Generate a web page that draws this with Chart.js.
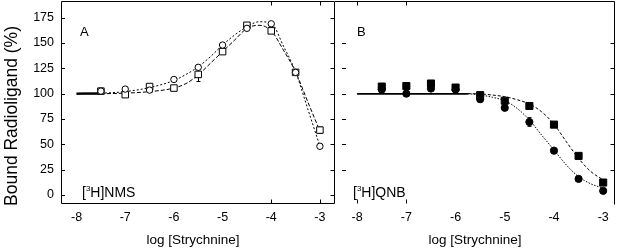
<!DOCTYPE html>
<html><head><meta charset="utf-8">
<script src="https://cdn.jsdelivr.net/npm/chart.js@4/dist/chart.umd.min.js"></script>
<style>
html,body{margin:0;padding:0;background:#fff;}
#wrap{position:relative;width:617px;height:250px;overflow:hidden;background:#fff}
#ca{position:absolute;left:0;top:0}
#cb{position:absolute;left:335px;top:0}
</style></head><body>
<div id="wrap"><canvas id="ca" width="337" height="250"></canvas><canvas id="cb" width="282" height="250"></canvas></div>
<script>
// ---- data ----
const xTicks = [-8,-7,-6,-5,-4,-3];
const xTickLabels = ['-8','-7','-6','-5','-4','-3'];
const yTicks = [0,25,50,75,100,125,150,175];
const yTickLabels = ['0','25','50','75','100','125','150','175'];
const doseX = [-7.5,-7,-6.5,-6,-5.5,-5,-4.5,-4,-3.5,-3];

// Panel A  [3H]NMS
const nmsCircle = [102.5,104.5,103.5,114,126,148,164.5,169,121,48];
const nmsCircleErr = [0,2,2,0,0,0,0,0,0,0];
const nmsSquare = [102.5,99,107,105.5,119,141.5,167.5,162,121,64];
const nmsSquareErr = [0,2,0,0,7,0,0,0,0,3];
const curveXA = [-8,-7.5,-7,-6.5,-6,-5.75,-5.5,-5.25,-5,-4.75,-4.5,-4.25,-4,-3.75,-3.5,-3.25,-3];
const nmsCircleCurve = [100,100.5,102,106,113,119,126.5,136.5,148,158,166,171,169.5,147,121.5,85,48];
const nmsSquareCurve = [100,100,100.5,102,105.5,110,118.5,130,141.5,153,164.5,167.5,162,143,121.5,92,63];

// Panel B  [3H]QNB
const qnbSquare = [107,107.5,110,106,98.5,93,87.8,69.4,38.5,12.2];
const qnbSquareErr = [0,3.5,2,0,0,0,0,0,0,0];
const qnbCircle = [104,100,105,104,94.5,86,72,43.7,15.8,4];
const qnbCircleErr = [0,0,0,0,0,0,4.3,0,0,0];
const curveXB = [-8,-7,-6,-5.75,-5.5,-5.25,-5,-4.75,-4.5,-4.25,-4,-3.75,-3.5,-3.25,-3];
const qnbSquareCurve = [100,100,100,100,99.7,98.6,97,94,89.8,82,69.8,52.6,36,23,14.8];
const qnbCircleCurve = [100,100,100,99.8,98.7,96.4,93,85.5,74,59,44.4,29.6,18,10.9,6.6];

const FONT = "'Liberation Sans', Arial, sans-serif";
const pts = (xs, ys) => xs.map((x,i)=>({x, y: ys[i]}));

function framePlugin(p){
  return {
    id: 'frame' + p.name,
    beforeDatasetsDraw(chart){
      const ctx = chart.ctx, xs = chart.scales.x, ys = chart.scales.y;
      ctx.save(); ctx.strokeStyle = '#000'; ctx.lineWidth = 1;
      chart.data.datasets.forEach(ds => {
        if (!ds.errs) return;
        ds.data.forEach((d,i) => {
          const e = ds.errs[i]; if (!e) return;
          const px = Math.round(xs.getPixelForValue(d.x)) + 0.5;
          const y1 = ys.getPixelForValue(d.y - e), y2 = ys.getPixelForValue(d.y + e);
          ctx.beginPath();
          ctx.moveTo(px, y1); ctx.lineTo(px, y2);
          ctx.moveTo(px-2, y1); ctx.lineTo(px+2, y1);
          ctx.moveTo(px-2, y2); ctx.lineTo(px+2, y2);
          ctx.stroke();
        });
      });
      ctx.restore();
    },
    afterDraw(chart){
      const ctx = chart.ctx, a = chart.chartArea, xs = chart.scales.x, ys = chart.scales.y;
      const L = Math.round(a.left) + 0.5, R = Math.round(a.right) - 0.5;
      const T = Math.round(a.top) + 0.5, B = Math.round(a.bottom) - 0.5;
      ctx.save();
      ctx.strokeStyle = '#000'; ctx.lineWidth = 1;
      ctx.beginPath();
      if (p.fullBox) {
        ctx.rect(L, T, R - L, B - T);
      } else {
        ctx.moveTo(a.left, T); ctx.lineTo(R, T); ctx.lineTo(R, B + 1);
      }
      p.xMarks.forEach(v => {
        const px = Math.round(xs.getPixelForValue(v)) + 0.5;
        ctx.moveTo(px, B); ctx.lineTo(px, B - 4);
        ctx.moveTo(px, T); ctx.lineTo(px, T + 4);
      });
      p.yMarks.forEach(v => {
        const py = Math.round(ys.getPixelForValue(v)) + 0.5;
        const lx = a.left + p.leftTickOffset;
        ctx.moveTo(lx, py); ctx.lineTo(lx + 4, py);
        ctx.moveTo(R, py); ctx.lineTo(R - 4, py);
      });
      ctx.stroke();

      ctx.fillStyle = '#000';
      ctx.font = '13px ' + FONT;
      ctx.textAlign = 'left'; ctx.textBaseline = 'middle';
      ctx.fillText(p.letter, a.left + p.letterDx, 32);
      let x = a.left + p.ligDx; const base = 197;
      ctx.textBaseline = 'alphabetic';
      ctx.font = '14px ' + FONT;
      ctx.fillText('[', x, base); x += ctx.measureText('[').width;
      ctx.font = '8px ' + FONT;
      ctx.fillText('3', x, base - 6); x += ctx.measureText('3').width;
      ctx.font = '14px ' + FONT;
      ctx.fillText('H]' + p.lig, x, base);
      ctx.font = '13.5px ' + FONT;
      ctx.textAlign = 'center';
      ctx.fillText('log [Strychnine]', (a.left + a.right) / 2 + p.titleDx, 244);
      if (p.yTitle) {
        ctx.save();
        ctx.translate(12.5, 116);
        ctx.rotate(-Math.PI / 2);
        ctx.font = '17.5px ' + FONT;
        ctx.textAlign = 'center'; ctx.textBaseline = 'middle';
        ctx.fillText(p.yTitle, 0, 0);
        ctx.restore();
      }
      ctx.restore();
    }
  };
}

function scalesCfg(xmin, xmax, showY){
  return {
    x: {
      type: 'linear', min: xmin, max: xmax,
      afterBuildTicks: s => { s.ticks = xTicks.map(v => ({value: v})); },
      afterFit: s => { s.height = 46; s.paddingLeft = 0; s.paddingRight = 0; s.paddingTop = 0; s.paddingBottom = 0; },
      grid: {display: false, drawTicks: false},
      border: {display: false},
      ticks: {
        color: '#000', font: {family: FONT, size: 12.5}, padding: 6, maxRotation: 0,
        autoSkip: false,
        callback: v => xTickLabels[xTicks.indexOf(v)]
      }
    },
    y: {
      type: 'linear', min: -9, max: 191.5, display: showY,
      afterBuildTicks: s => { s.ticks = yTicks.map(v => ({value: v})); },
      afterFit: s => { s.width = showY ? 61 : 0; s.paddingLeft = 0; s.paddingRight = 0; s.paddingTop = 0; s.paddingBottom = 0; },
      grid: {display: false, drawTicks: false},
      border: {display: false},
      ticks: {
        color: '#000', font: {family: FONT, size: 12.5}, padding: 7,
        autoSkip: false,
        callback: v => yTickLabels[yTicks.indexOf(v)]
      }
    }
  };
}

const common = {
  responsive: false, animation: false,
  plugins: {legend: {display: false}, tooltip: {enabled: false}},
  elements: {line: {tension: 0}}
};

function curveDs(xs, ys, dash, solidUntil, solidWidth){
  return {
    data: pts(xs, ys), showLine: true, pointRadius: 0, borderColor: '#000',
    borderWidth: 1, cubicInterpolationMode: 'monotone', order: 2, fill: false,
    segment: {
      borderDash: c => c.p1.parsed.x <= solidUntil + 1e-9 ? [] : dash,
      borderWidth: c => c.p1.parsed.x <= solidUntil + 1e-9 ? solidWidth : 1
    }
  };
}
function markerDs(ys, errs, style, r, fillCol){
  return {
    data: pts(doseX, ys), errs, showLine: false, pointStyle: style, pointRadius: r,
    pointBackgroundColor: fillCol, pointBorderColor: '#000', pointBorderWidth: 1,
    borderColor: '#000', order: 0
  };
}

new Chart(document.getElementById('ca'), {
  type: 'line',
  data: {datasets: [
    markerDs(nmsCircle, nmsCircleErr, 'circle', 3.2, '#fff'),
    markerDs(nmsSquare, nmsSquareErr, 'rect', 4.6, '#fff'),
    curveDs(curveXA, nmsCircleCurve, [2,2], -7.5, 2),
    curveDs(curveXA, nmsSquareCurve, [4,2], -7.5, 2)
  ]},
  options: Object.assign({}, common, {
    layout: {autoPadding: false, padding: {left: 0, right: 2, top: 1, bottom: 0}},
    scales: scalesCfg(-8.32, -2.69, true)
  }),
  plugins: [framePlugin({name:'A', fullBox: true, xMarks: [-4,-3], yMarks: yTicks,
    leftTickOffset: 0, letter: 'A', letterDx: 19, lig: 'NMS', ligDx: 21, titleDx: -5,
    yTitle: 'Bound Radioligand (%)'})]
});

new Chart(document.getElementById('cb'), {
  type: 'line',
  data: {datasets: [
    markerDs(qnbCircle, qnbCircleErr, 'circle', 3.6, '#000'),
    markerDs(qnbSquare, qnbSquareErr, 'rect', 5, '#000'),
    curveDs(curveXB, qnbSquareCurve, [3,2], -5.75, 1.5),
    curveDs(curveXB, qnbCircleCurve, [1.5,1.5], -5.75, 1.5)
  ]},
  options: Object.assign({}, common, {
    layout: {autoPadding: false, padding: {left: 0, right: 2, top: 1, bottom: 0}},
    scales: scalesCfg(-8.45, -2.76, false)
  }),
  plugins: [framePlugin({name:'B', fullBox: false, xMarks: [-8,-7], yMarks: [25,50,75,100,125,150],
    leftTickOffset: 7, letter: 'B', letterDx: 22, lig: 'QNB', ligDx: 18, titleDx: 0,
    yTitle: null})]
});
</script>
</body></html>
